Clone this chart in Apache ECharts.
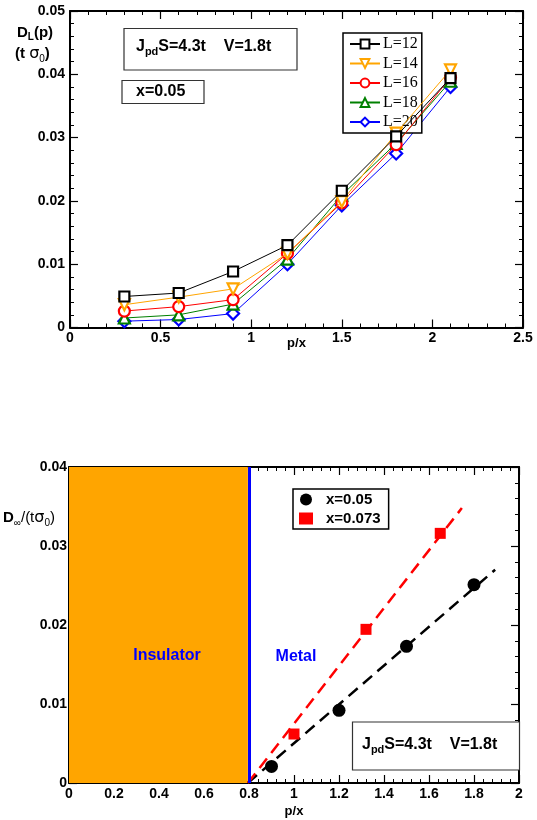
<!DOCTYPE html>
<html>
<head>
<meta charset="utf-8">
<script src="https://cdn.jsdelivr.net/npm/echarts@6/dist/echarts.min.js"></script>
<style>html,body{margin:0;padding:0;background:#fff}#c{width:537px;height:820px}</style>
</head>
<body>
<div id="c"></div>
<script>
// ---------- Data: top panel (finite-size Drude weight) ----------
const pxTop = [0.3, 0.6, 0.9, 1.2, 1.5, 1.8, 2.1];
const L12 = [0.0049, 0.00545, 0.00885, 0.0130, 0.0216, 0.0302, 0.0394];
const L14 = [0.0036, 0.0048, 0.0061, 0.0117, 0.0199, 0.0307, 0.0407];
const L16 = [0.0026, 0.0033, 0.0044, 0.0117, 0.0197, 0.0289, 0.0395];
const L18 = [0.0015, 0.0020, 0.0037, 0.0108, 0.0209, 0.0291, 0.0389];
const L20 = [0.0010, 0.00126, 0.0022, 0.0100, 0.0193, 0.0275, 0.0380];
const topNames = ['L=12', 'L=14', 'L=16', 'L=18', 'L=20'];

// ---------- Data: bottom panel (extrapolated Drude weight) ----------
const x05_px = [0.9, 1.2, 1.5, 1.8];
const x05_D  = [0.0021, 0.0092, 0.0173, 0.0251];
const x073_px = [1.0, 1.32, 1.65];
const x073_D  = [0.0062, 0.01945, 0.0316];
const fit05  = [[0.795, 0], [1.894, 0.0270]];
const fit073 = [[0.795, 0], [1.746, 0.0348]];
const boundary = 0.795;
const bottomNames = ['x=0.05', 'x=0.073'];

const pair = (xs, ys) => xs.map((x, i) => [x, ys[i]]);
const FONT = 'Liberation Sans, Arial, sans-serif';

function axisPair(gridIndex, pos, min, max, interval, showLabel, labelMargin) {
  return {
    gridIndex, type: 'value', position: pos, min, max, interval,
    axisLine: { show: true, onZero: false, lineStyle: { color: '#000', width: 2 } },
    axisTick: { show: true, inside: true, length: 8, lineStyle: { color: '#000', width: 1.2 } },
    minorTick: { show: true, splitNumber: 5, length: 4, lineStyle: { color: '#000', width: 1 } },
    splitLine: { show: false },
    axisLabel: { show: showLabel, color: '#000', fontFamily: FONT, fontWeight: 'bold', fontSize: 14, margin: labelMargin }
  };
}
const chart = echarts.init(document.getElementById('c'), null, { renderer: 'canvas' });

const topColors = ['#000000', '#FFA500', '#FF0000', '#008000', '#0000FF'];
const topSymbols = ['rect', 'triangle', 'circle', 'triangle', 'diamond'];
const topRot = [0, 180, 0, 0, 0];
const topSizes = [10, 11, 11, 11, 12];
const topData = [L12, L14, L16, L18, L20];

const series = topData.map((ys, i) => ({
  name: topNames[i], type: 'line', xAxisIndex: 0, yAxisIndex: 0,
  data: pair(pxTop, ys), symbol: topSymbols[i], symbolRotate: topRot[i], symbolSize: topSizes[i],
  lineStyle: { color: topColors[i], width: 1 },
  itemStyle: { color: '#fff', borderColor: topColors[i], borderWidth: 2.2 },
  z: 3 + (4 - i)
}));

series.push({
  name: 'fit05', type: 'line', xAxisIndex: 2, yAxisIndex: 2, data: fit05, symbol: 'none',
  lineStyle: { color: '#000', width: 2.5, type: [12, 7] }, z: 3,
  markArea: { silent: true, itemStyle: { color: '#FFA500' },
    data: [[{ xAxis: 0, yAxis: 0 }, { xAxis: boundary, yAxis: 0.04 }]] },
  markLine: { silent: true, symbol: 'none', label: { show: false },
    lineStyle: { color: '#0000FF', width: 3, type: 'solid' }, data: [{ xAxis: boundary }] }
});
series.push({
  name: 'fit073', type: 'line', xAxisIndex: 2, yAxisIndex: 2, data: fit073, symbol: 'none',
  lineStyle: { color: '#FF0000', width: 2.5, type: [12, 7] }, z: 3
});
series.push({
  name: bottomNames[0], type: 'scatter', xAxisIndex: 2, yAxisIndex: 2, data: pair(x05_px, x05_D),
  symbol: 'circle', symbolSize: 13, itemStyle: { color: '#000', opacity: 1 }, z: 5
});
series.push({
  name: bottomNames[1], type: 'scatter', xAxisIndex: 2, yAxisIndex: 2, data: pair(x073_px, x073_D),
  symbol: 'rect', symbolSize: 11, itemStyle: { color: '#FF0000', opacity: 1 }, z: 5
});

const subRich = {
  m: { fontFamily: FONT, fontWeight: 'bold', fontSize: 16, color: '#000' },
  s: { fontFamily: FONT, fontWeight: 'bold', fontSize: 11, color: '#000', padding: [9, 0, 0, 0] }
};

const option = {
  animation: false,
  backgroundColor: '#fff',
  grid: [
    { left: 70, right: 14, top: 11, bottom: 492.5 },
    { left: 69, right: 18, top: 467, bottom: 37 }
  ],
  xAxis: [
    Object.assign(axisPair(0, 'bottom', 0, 2.5, 0.5, true, 4), { name: 'p/x', nameLocation: 'middle', nameGap: 9, nameMoveOverlap: false,
      nameTextStyle: { color: '#000', fontFamily: FONT, fontWeight: 'bold', fontSize: 13 } }),
    axisPair(0, 'top', 0, 2.5, 0.5, false, 4),
    Object.assign(axisPair(1, 'bottom', 0, 2, 0.2, true, 4), { name: 'p/x', nameLocation: 'middle', nameGap: 22, nameMoveOverlap: false,
      nameTextStyle: { color: '#000', fontFamily: FONT, fontWeight: 'bold', fontSize: 13 } }),
    axisPair(1, 'top', 0, 2, 0.2, false, 4)
  ],
  yAxis: [
    axisPair(0, 'left', 0, 0.05, 0.01, true, 5),
    axisPair(0, 'right', 0, 0.05, 0.01, false, 4),
    axisPair(1, 'left', 0, 0.04, 0.01, true, 2),
    axisPair(1, 'right', 0, 0.04, 0.01, false, 4)
  ],
  legend: [
    { data: topNames, left: 343, top: 33, orient: 'vertical', itemWidth: 30, itemHeight: 11, itemGap: 3.5,
      padding: [3, 4, 3, 6], borderColor: '#000', borderWidth: 1.5, backgroundColor: '#fff',
      textStyle: { fontFamily: 'Liberation Serif, Times New Roman, serif', fontSize: 16, color: '#000', padding: [0, 0, 0, -2] } },
    { data: bottomNames, left: 293, top: 489, orient: 'vertical', itemWidth: 14, itemHeight: 12, itemGap: 4,
      padding: [3, 8, 3, 6], borderColor: '#000', borderWidth: 1.5, backgroundColor: '#fff',
      textStyle: { fontFamily: FONT, fontWeight: 'bold', fontSize: 15, color: '#000', padding: [0, 0, 0, 8] } }
  ],
  graphic: [
    { type: 'rect', shape: { x: 124, y: 28.5, width: 173, height: 41.5 }, style: { fill: '#fff', stroke: '#333', lineWidth: 1.2 }, z: 10 },
    { type: 'text', x: 136, y: 37, style: { text: '{m|J}{s|pd}{m|S=4.3t    V=1.8t}', rich: subRich }, z: 11 },
    { type: 'rect', shape: { x: 122, y: 80.5, width: 82, height: 23 }, style: { fill: '#fff', stroke: '#333', lineWidth: 1.2 }, z: 10 },
    { type: 'text', x: 136, y: 84, style: { text: 'x=0.05', font: 'bold 16px ' + FONT, fill: '#000' }, z: 11 },
    { type: 'text', x: 17, y: 24, style: { text: '{m|D}{s|L}{m|(p)}', rich: {
        m: { fontFamily: FONT, fontWeight: 'bold', fontSize: 15, color: '#000' },
        s: { fontFamily: FONT, fontWeight: 'bold', fontSize: 10, color: '#000', padding: [8, 0, 0, 0] } } }, z: 11 },
    { type: 'text', x: 15, y: 44, style: { text: '{m|(t }{g|σ}{s|0}{m|)}', rich: {
        m: { fontFamily: FONT, fontWeight: 'bold', fontSize: 15, color: '#000' },
        g: { fontFamily: 'DejaVu Sans, sans-serif', fontSize: 16, color: '#000' },
        s: { fontFamily: FONT, fontSize: 10, color: '#000', padding: [10, 0, 0, 0] } } }, z: 11 },
    { type: 'text', x: 3, y: 508, style: { text: '{m|D}{s|∞}{n|/(t}{g|σ}{s|0}{n|)}', rich: {
        m: { fontFamily: FONT, fontWeight: 'bold', fontSize: 15, color: '#000' },
        n: { fontFamily: FONT, fontSize: 15, color: '#000' },
        g: { fontFamily: 'DejaVu Sans, sans-serif', fontSize: 16, color: '#000' },
        s: { fontFamily: FONT, fontSize: 10, color: '#000', padding: [10, 0, 0, 0] } } }, z: 11 },
    { type: 'text', x: 167, y: 656, style: { text: 'Insulator', font: 'bold 16px ' + FONT, fill: '#0000FF', align: 'center', verticalAlign: 'middle' }, z: 11 },
    { type: 'text', x: 296, y: 657, style: { text: 'Metal', font: 'bold 16px ' + FONT, fill: '#0000FF', align: 'center', verticalAlign: 'middle' }, z: 11 },
    { type: 'rect', shape: { x: 352.5, y: 722, width: 167, height: 48 }, style: { fill: '#fff', stroke: '#333', lineWidth: 1.2 }, z: 10 },
    { type: 'text', x: 362, y: 735, style: { text: '{m|J}{s|pd}{m|S=4.3t    V=1.8t}', rich: subRich }, z: 11 }
  ],
  series
};
chart.setOption(option);
</script>
</body>
</html>
